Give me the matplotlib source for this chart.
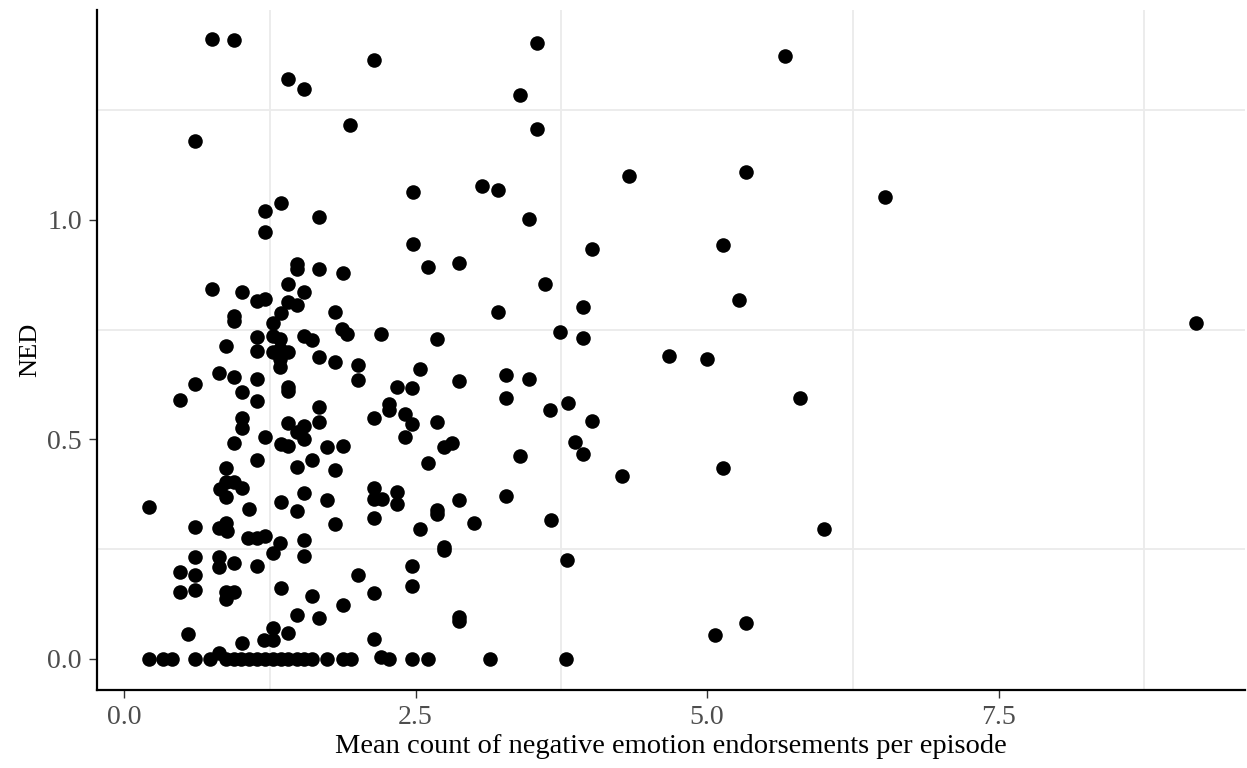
import matplotlib
matplotlib.use("Agg")
import matplotlib.pyplot as plt
from matplotlib.ticker import FixedLocator

# mean count of negative emotion endorsements per episode (x) and NED (y)
mean_neg = [
    0.75, 0.94, 1.41, 1.54, 2.14, 3.54, 5.67, 3.40, 3.54, 1.94, 0.61, 2.48, 3.07, 3.21,
    4.33, 5.33, 6.53, 1.35, 1.21, 1.67, 3.47, 1.21, 2.48, 4.01, 5.14, 2.61, 2.87, 1.88,
    1.48, 1.48, 1.67, 0.75, 1.01, 1.14, 1.21, 1.41, 1.54, 1.41, 1.48, 3.61, 3.94, 5.27,
    9.19, 1.35, 1.28, 1.81, 3.21, 0.94, 0.94, 1.87, 1.91, 3.74, 3.94, 1.14, 1.28, 1.34,
    1.54, 1.61, 0.87, 1.14, 1.28, 1.34, 1.41, 1.34, 1.67, 1.81, 1.34, 2.20, 2.68, 2.01,
    2.01, 2.54, 2.87, 3.28, 3.28, 3.47, 3.65, 3.81, 4.01, 2.34, 2.47, 2.27, 2.27, 2.14,
    2.41, 2.47, 2.68, 2.41, 4.67, 5.00, 5.80, 0.81, 0.94, 1.14, 0.61, 0.48, 1.01, 1.14,
    1.41, 1.41, 1.67, 1.67, 1.01, 1.01, 1.41, 1.48, 1.54, 1.54, 0.94, 1.21, 1.35, 1.41,
    1.74, 1.88, 2.74, 2.81, 3.40, 1.81, 2.61, 1.14, 0.87, 1.48, 1.61, 3.87, 3.94, 4.27,
    5.14, 0.82, 0.87, 0.94, 1.01, 0.87, 1.35, 1.54, 1.74, 0.21, 1.07, 1.48, 2.14, 2.14,
    2.21, 2.34, 2.34, 2.87, 3.28, 2.68, 2.68, 1.81, 2.14, 3.00, 2.54, 3.66, 6.00, 0.61,
    0.81, 0.87, 0.88, 1.06, 1.14, 1.21, 1.34, 1.28, 1.54, 1.54, 2.74, 2.74, 3.80, 0.61,
    0.81, 0.81, 0.94, 1.14, 0.48, 0.61, 0.48, 0.61, 0.87, 0.94, 0.87, 1.35, 1.61, 1.48,
    1.67, 2.47, 2.47, 2.01, 2.14, 1.88, 2.87, 2.87, 2.14, 0.55, 1.28, 1.20, 1.28, 1.41,
    1.01, 0.81, 5.07, 5.33,
    # episodes with NED of (about) zero
    0.21, 0.33, 0.41, 0.61, 0.74, 0.87, 0.94, 1.00, 1.07, 1.14, 1.21, 1.28, 1.35, 1.41,
    1.48, 1.54, 1.61, 1.74, 1.88, 1.95, 2.20, 2.27, 2.47, 2.61, 3.14, 3.79,
]
ned = [
    1.411, 1.409, 1.320, 1.297, 1.365, 1.402, 1.374, 1.285, 1.208, 1.217, 1.180, 1.064, 1.078, 1.068,
    1.100, 1.110, 1.052, 1.039, 1.021, 1.007, 1.002, 0.973, 0.945, 0.934, 0.943, 0.893, 0.902, 0.879,
    0.900, 0.888, 0.888, 0.842, 0.836, 0.815, 0.820, 0.854, 0.836, 0.813, 0.806, 0.854, 0.801, 0.817,
    0.765, 0.788, 0.765, 0.790, 0.790, 0.781, 0.769, 0.751, 0.740, 0.744, 0.731, 0.733, 0.735, 0.728,
    0.735, 0.726, 0.712, 0.701, 0.699, 0.705, 0.699, 0.683, 0.687, 0.676, 0.664, 0.740, 0.728, 0.669,
    0.635, 0.660, 0.632, 0.646, 0.594, 0.637, 0.568, 0.582, 0.541, 0.619, 0.616, 0.580, 0.568, 0.548,
    0.557, 0.534, 0.539, 0.505, 0.689, 0.683, 0.594, 0.651, 0.642, 0.637, 0.626, 0.589, 0.607, 0.587,
    0.619, 0.610, 0.573, 0.539, 0.548, 0.525, 0.537, 0.516, 0.530, 0.500, 0.491, 0.505, 0.489, 0.484,
    0.482, 0.484, 0.482, 0.491, 0.463, 0.431, 0.447, 0.454, 0.436, 0.438, 0.452, 0.493, 0.466, 0.416,
    0.434, 0.386, 0.402, 0.404, 0.390, 0.370, 0.358, 0.377, 0.363, 0.345, 0.342, 0.338, 0.390, 0.365,
    0.365, 0.381, 0.354, 0.361, 0.372, 0.340, 0.331, 0.308, 0.320, 0.310, 0.295, 0.317, 0.295, 0.301,
    0.299, 0.310, 0.292, 0.276, 0.276, 0.281, 0.263, 0.242, 0.272, 0.235, 0.256, 0.249, 0.226, 0.233,
    0.233, 0.210, 0.219, 0.212, 0.199, 0.192, 0.153, 0.158, 0.153, 0.153, 0.137, 0.162, 0.144, 0.100,
    0.094, 0.212, 0.167, 0.192, 0.151, 0.123, 0.096, 0.087, 0.046, 0.057, 0.071, 0.043, 0.043, 0.059,
    0.037, 0.014, 0.055, 0.082,
    0, 0, 0, 0, 0, 0, 0, 0, 0, 0, 0, 0, 0, 0,
    0, 0, 0, 0, 0, 0, 0.005, 0, 0, 0, 0, 0,
]

x_ticks = [0.0, 2.5, 5.0, 7.5]
x_tick_labels = ["0.0", "2.5", "5.0", "7.5"]
y_ticks = [0.0, 0.5, 1.0]
y_tick_labels = ["0.0", "0.5", "1.0"]
x_minor = [1.25, 3.75, 6.25, 8.75]
y_minor = [0.25, 0.75, 1.25]

plt.rcParams["font.family"] = ["Liberation Serif", "DejaVu Serif"]

fig = plt.figure(figsize=(12.47, 7.68), dpi=100)
ax = fig.add_axes([0.0778, 0.1016, 0.9206, 0.8854])

ax.scatter(mean_neg, ned, s=110, color="black", linewidths=0, zorder=3)

ax.set_xlim(-0.232, 9.614)
ax.set_ylim(-0.0706, 1.478)

ax.set_xticks(x_ticks)
ax.set_xticklabels(x_tick_labels)
ax.set_yticks(y_ticks)
ax.set_yticklabels(y_tick_labels)
ax.xaxis.set_minor_locator(FixedLocator(x_minor))
ax.yaxis.set_minor_locator(FixedLocator(y_minor))
ax.grid(which="minor", color="#ebebeb", linewidth=1.3, zorder=0)
ax.grid(which="major", visible=False)
ax.set_axisbelow(True)

ax.tick_params(which="minor", length=0)
ax.tick_params(which="major", length=6, width=1, color="#333333",
               labelsize=20, labelcolor="#4d4d4d", pad=5)

for side in ["top", "right"]:
    ax.spines[side].set_visible(False)
for side in ["left", "bottom"]:
    ax.spines[side].set_linewidth(1.6)
    ax.spines[side].set_color("black")

ax.set_xlabel("Mean count of negative emotion endorsements per episode", fontsize=20.5, labelpad=3)
ax.set_ylabel("NED", fontsize=19, labelpad=4)

fig.savefig("out.png", dpi=100)
